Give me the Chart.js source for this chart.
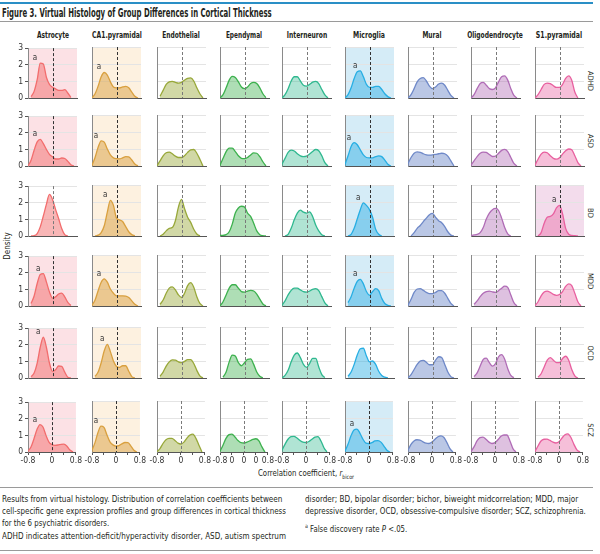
<!DOCTYPE html>
<html>
<head>
<meta charset="utf-8">
<script src="https://cdn.jsdelivr.net/npm/chart.js@4.4.1/dist/chart.umd.min.js"></script>
<style>
  body { margin: 0; background: #fff; }
  #fig {
    position: relative; width: 600px; height: 554px; overflow: hidden;
    font-family: "Liberation Sans Narrow", "DejaVu Sans Condensed", "Liberation Sans", sans-serif;
    color: #231f20;
  }
  .abs { position: absolute; white-space: nowrap; transform-origin: left center; }
  .rule { position: absolute; left: 0; width: 593px; }
  .title { font-size: 11.5px; font-weight: bold; line-height: 12px; }
  .colhead { font-size: 9px; font-weight: bold; line-height: 10px; transform-origin: center center; }
  .rowlab { font-size: 7.5px; line-height: 9px; transform: translate(-50%, -50%) rotate(90deg); transform-origin: center center; }
  .cap { font-size: 8.8px; line-height: 12px; }
  canvas { position: absolute; }
</style>
</head>
<body>
<div id="fig">
  <div class="rule" style="top:2px;height:2px;background:#2a8fc6"></div>
  <div class="abs title fit" data-w="270" style="left:2px;top:7px">Figure 3. Virtual Histology of Group Differences in Cortical Thickness</div>
  <div class="rule" style="top:21px;height:1px;background:#9a9a9a"></div>

  <div class="abs cap" style="left:8px;top:246px;font-size:8px;transform:translate(-50%,-50%) rotate(-90deg);transform-origin:center center">Density</div>
  <div class="abs cap fit" data-w="96" style="left:258px;top:467px">Correlation coefficient, <i>r</i><sub style="font-size:6px">bicor</sub></div>

  <div class="rule" style="top:487px;height:1px;background:#9a9a9a"></div>
  <div class="abs cap fit" data-w="280" style="left:2px;top:493px">Results from virtual histology. Distribution of correlation coefficients between</div>
  <div class="abs cap fit" data-w="284" style="left:2px;top:505px">cell-specific gene expression profiles and group differences in cortical thickness</div>
  <div class="abs cap fit" data-w="107" style="left:2px;top:517px">for the 6 psychiatric disorders.</div>
  <div class="abs cap fit" data-w="284" style="left:2px;top:530px">ADHD indicates attention-deficit/hyperactivity disorder, ASD, autism spectrum</div>
  <div class="abs cap fit" data-w="273" style="left:305px;top:493px">disorder; BD, bipolar disorder; bichor, biweight midcorrelation; MDD, major</div>
  <div class="abs cap fit" data-w="281" style="left:305px;top:505px">depressive disorder, OCD, obsessive-compulsive disorder; SCZ, schizophrenia.</div>
  <div class="abs cap fit" data-w="102" style="left:305px;top:520px"><sup style="font-size:6px">a</sup> False discovery rate <i>P</i> &lt;.05.</div>
  <div class="rule" style="top:550px;height:1px;background:#9a9a9a"></div>
</div>

<script>
/* ---------- Data ---------- */
const cellTypes = ["Astrocyte", "CA1.pyramidal", "Endothelial", "Ependymal", "Interneuron",
  "Microglia", "Mural", "Oligodendrocyte", "S1.pyramidal"];
const disorders = ["ADHD", "ASD", "BD", "MDD", "OCD", "SCZ"];

// correlation coefficient grid, -0.8 .. 0.8
const rValues = [-0.8, -0.7, -0.6, -0.5, -0.4, -0.3, -0.2, -0.1, 0, 0.1, 0.2, 0.3, 0.4, 0.5, 0.6, 0.7, 0.8];
const xTicks = [-0.8, -0.4, 0, 0.4, 0.8];
const xTickLabels = ["-0.8", "", "0", "", "0.8"];
const xTickLabelsEpendymal = ["-0.8", "0", "0", "0", "0.8"];
const yTicks = [0, 1, 2, 3];

// density per disorder (rows ADHD, ASD, BD, MDD, OCD, SCZ)
const densityAstrocyte = [
  [null, 0.08, 0.4, 1.1, 2.1, 2.05, 1.25, 0.82, 0.65, 0.55, 0.46, 0.46, 0.5, 0.3, 0.03, null, null],
  [0, 0.35, 0.95, 1.45, 1.6, 1.35, 1.0, 0.7, 0.55, 0.42, 0.42, 0.48, 0.45, 0.28, 0.08, 0, null],
  [null, 0, 0.02, 0.15, 0.55, 1.2, 1.9, 2.5, 2.2, 1.6, 1.05, 0.45, 0.08, 0, null, null, null],
  [null, 0.15, 0.6, 1.35, 1.9, 1.95, 1.45, 0.85, 0.47, 0.55, 0.72, 0.78, 0.55, 0.22, 0.03, null, null],
  [null, 0.08, 0.3, 0.9, 1.85, 2.45, 1.85, 0.9, 0.4, 0.5, 0.72, 0.7, 0.35, 0.05, 0, null, null],
  [0.05, 0.3, 0.8, 1.35, 1.65, 1.5, 1.0, 0.6, 0.45, 0.4, 0.42, 0.46, 0.47, 0.35, 0.12, 0, null]
];
const densityCA1 = [
  [0, 0.25, 0.7, 1.25, 1.5, 1.35, 0.95, 0.65, 0.6, 0.6, 0.65, 0.68, 0.6, 0.35, 0.1, 0, null],
  [0.05, 0.5, 1.1, 1.48, 1.4, 1.0, 0.65, 0.48, 0.43, 0.42, 0.48, 0.55, 0.53, 0.35, 0.12, 0, null],
  [null, 0, 0.05, 0.2, 0.6, 1.4, 2.1, 1.8, 1.05, 0.95, 0.85, 0.55, 0.25, 0.08, 0.01, null, null],
  [0.05, 0.35, 0.9, 1.4, 1.6, 1.4, 1.0, 0.75, 0.6, 0.6, 0.6, 0.58, 0.5, 0.3, 0.1, 0, null],
  [null, 0.1, 0.35, 0.9, 1.6, 1.98, 1.55, 1.0, 0.68, 0.62, 0.72, 0.72, 0.4, 0.08, 0, null, null],
  [0.1, 0.55, 1.15, 1.52, 1.45, 1.0, 0.6, 0.42, 0.35, 0.38, 0.48, 0.56, 0.55, 0.35, 0.1, 0, null]
];
const densityEndothelial = [
  [null, 0.1, 0.45, 0.8, 0.95, 0.98, 0.92, 0.88, 0.92, 1.05, 1.15, 1.18, 1.0, 0.6, 0.25, 0, null],
  [0.02, 0.3, 0.6, 0.78, 0.82, 0.72, 0.58, 0.5, 0.5, 0.6, 0.8, 0.95, 0.97, 0.75, 0.4, 0, null],
  [null, 0, 0.1, 0.3, 0.45, 0.5, 0.9, 1.7, 2.15, 1.6, 1.1, 0.8, 0.4, 0.12, 0, null, null],
  [null, 0.1, 0.35, 0.75, 1.05, 1.12, 0.95, 0.65, 0.5, 0.75, 1.2, 1.37, 1.1, 0.55, 0.15, 0, null],
  [null, 0.1, 0.35, 0.7, 0.95, 1.07, 1.05, 0.95, 0.9, 0.98, 1.08, 1.08, 0.85, 0.45, 0.12, 0, null],
  [0.02, 0.2, 0.5, 0.72, 0.8, 0.8, 0.68, 0.52, 0.47, 0.58, 0.82, 1.0, 1.05, 0.8, 0.4, 0, null]
];
const densityEpendymal = [
  [0, 0.2, 0.6, 1.05, 1.27, 1.2, 0.95, 0.65, 0.55, 0.65, 0.85, 0.92, 0.85, 0.6, 0.25, 0.02, null],
  [0.05, 0.45, 0.85, 1.05, 1.05, 0.85, 0.6, 0.45, 0.43, 0.5, 0.65, 0.77, 0.75, 0.55, 0.25, 0, null],
  [0.03, 0.04, 0.08, 0.25, 0.7, 1.35, 1.65, 1.75, 1.7, 1.35, 1.15, 0.75, 0.3, 0.08, 0.02, 0, null],
  [0, 0.25, 0.65, 1.05, 1.25, 1.25, 1.05, 0.85, 0.82, 0.88, 0.92, 0.88, 0.7, 0.4, 0.12, 0, null],
  [null, 0.05, 0.35, 0.95, 1.35, 1.3, 0.9, 0.72, 0.9, 1.1, 1.12, 0.8, 0.35, 0.1, 0.02, null, null],
  [0.05, 0.4, 0.8, 1.02, 1.05, 0.88, 0.68, 0.55, 0.53, 0.58, 0.66, 0.74, 0.78, 0.65, 0.3, 0, null]
];
const densityInterneuron = [
  [0, 0.2, 0.55, 1.0, 1.25, 1.25, 1.0, 0.75, 0.7, 0.8, 0.93, 0.98, 0.85, 0.5, 0.18, 0, null],
  [0.1, 0.45, 0.8, 0.93, 0.88, 0.72, 0.6, 0.55, 0.58, 0.7, 0.85, 0.97, 0.9, 0.6, 0.2, 0, null],
  [null, 0, 0.1, 0.45, 0.95, 1.35, 1.52, 1.4, 1.35, 1.42, 1.15, 0.65, 0.3, 0.08, 0, null, null],
  [0.05, 0.3, 0.65, 0.92, 1.05, 1.05, 0.95, 0.85, 0.82, 0.88, 0.98, 1.02, 0.9, 0.55, 0.18, 0, null],
  [0, 0.15, 0.45, 0.95, 1.35, 1.47, 1.2, 0.8, 0.62, 0.85, 1.15, 1.15, 0.65, 0.2, 0.03, null, null],
  [0.1, 0.45, 0.75, 0.9, 0.92, 0.82, 0.68, 0.58, 0.56, 0.62, 0.75, 0.88, 0.9, 0.65, 0.25, 0, null]
];
const densityMicroglia = [
  [0, 0.2, 0.6, 1.15, 1.55, 1.6, 1.25, 0.8, 0.62, 0.62, 0.68, 0.68, 0.5, 0.25, 0.08, 0, null],
  [0.1, 0.6, 1.15, 1.37, 1.25, 0.95, 0.65, 0.5, 0.48, 0.48, 0.55, 0.59, 0.55, 0.35, 0.1, 0, null],
  [null, 0, 0.1, 0.45, 1.0, 1.55, 1.95, 1.8, 1.55, 1.1, 0.4, 0.1, 0, null, null, null, null],
  [null, 0.2, 0.55, 1.05, 1.45, 1.57, 1.3, 0.85, 0.63, 0.85, 1.02, 0.9, 0.45, 0.15, 0.04, 0, null],
  [null, 0.1, 0.35, 0.8, 1.35, 1.72, 1.75, 1.3, 0.95, 1.0, 0.8, 0.4, 0.15, 0.05, 0.01, null, null],
  [0.05, 0.45, 0.95, 1.3, 1.35, 1.1, 0.75, 0.52, 0.5, 0.55, 0.65, 0.67, 0.58, 0.35, 0.1, 0, null]
];
const densityMural = [
  [0, 0.2, 0.55, 0.95, 1.15, 1.2, 1.0, 0.7, 0.55, 0.65, 0.82, 0.88, 0.75, 0.45, 0.15, 0, null],
  [0.15, 0.5, 0.75, 0.83, 0.8, 0.72, 0.66, 0.64, 0.65, 0.68, 0.72, 0.75, 0.72, 0.58, 0.3, 0, null],
  [null, 0, 0.2, 0.45, 0.62, 0.85, 1.05, 1.25, 1.33, 1.1, 0.9, 0.78, 0.55, 0.25, 0.05, 0, null],
  [0.05, 0.4, 0.8, 1.0, 1.02, 0.92, 0.8, 0.73, 0.73, 0.8, 0.9, 0.9, 0.75, 0.45, 0.15, 0, null],
  [0.02, 0.2, 0.5, 0.8, 1.0, 1.04, 0.92, 0.78, 0.78, 1.05, 1.25, 1.2, 0.8, 0.35, 0.08, 0, null],
  [0.1, 0.45, 0.65, 0.72, 0.7, 0.6, 0.52, 0.5, 0.58, 0.75, 0.9, 0.95, 0.85, 0.55, 0.2, 0, null]
];
const densityOligodendrocyte = [
  [0, 0.2, 0.55, 0.85, 0.92, 0.75, 0.55, 0.5, 0.6, 0.95, 1.25, 1.3, 1.05, 0.55, 0.15, 0, null],
  [0.05, 0.3, 0.55, 0.75, 0.82, 0.8, 0.68, 0.56, 0.58, 0.75, 0.92, 0.98, 0.85, 0.5, 0.15, 0, null],
  [0.03, 0.06, 0.1, 0.2, 0.5, 1.0, 1.35, 1.55, 1.62, 1.5, 1.05, 0.5, 0.12, 0, null, null, null],
  [null, 0.1, 0.3, 0.55, 0.75, 0.85, 0.88, 0.83, 0.8, 0.9, 1.05, 1.17, 1.1, 0.65, 0.2, 0, null],
  [null, 0.08, 0.3, 0.7, 1.1, 1.17, 0.9, 0.7, 0.85, 1.25, 1.37, 1.1, 0.55, 0.15, 0.02, null, null],
  [0.03, 0.3, 0.65, 0.85, 0.88, 0.75, 0.58, 0.5, 0.55, 0.72, 0.92, 1.0, 1.0, 0.65, 0.2, 0, null]
];
const densityS1 = [
  [0, 0.2, 0.5, 0.8, 0.88, 0.85, 0.72, 0.62, 0.62, 0.8, 1.15, 1.3, 1.05, 0.35, 0, null, null],
  [0.05, 0.4, 0.7, 0.82, 0.78, 0.6, 0.45, 0.4, 0.48, 0.7, 0.9, 1.0, 0.95, 0.6, 0.2, 0, null],
  [null, 0, 0.2, 0.75, 1.1, 1.15, 1.3, 1.65, 1.8, 1.3, 0.45, 0.1, 0.03, 0.02, 0, null, null],
  [0.02, 0.25, 0.6, 0.82, 0.88, 0.8, 0.68, 0.63, 0.68, 0.85, 1.15, 1.3, 1.2, 0.75, 0.25, 0, null],
  [null, 0.05, 0.25, 0.65, 1.05, 1.2, 1.05, 0.9, 0.9, 1.15, 1.28, 1.05, 0.5, 0.12, 0, null, null],
  [0.03, 0.35, 0.65, 0.75, 0.76, 0.68, 0.58, 0.53, 0.6, 0.82, 1.02, 1.07, 0.85, 0.45, 0.12, 0, null]
];
const densities = [densityAstrocyte, densityCA1, densityEndothelial, densityEpendymal,
  densityInterneuron, densityMicroglia, densityMural, densityOligodendrocyte, densityS1];

// false discovery rate P < .05, per cell type (rows ADHD..SCZ)
const fdrSignificant = [
  [1, 1, 0, 1, 1, 1],
  [1, 1, 1, 1, 1, 1],
  [0, 0, 0, 0, 0, 0],
  [0, 0, 0, 0, 0, 0],
  [0, 0, 0, 0, 0, 0],
  [1, 1, 1, 1, 0, 1],
  [0, 0, 0, 0, 0, 0],
  [0, 0, 0, 0, 0, 0],
  [0, 0, 1, 0, 0, 0]
];

/* ---------- Styles ---------- */
const lineColors = ["#f26d6d", "#d9a03f", "#98a83a", "#3db14e", "#2fb88f", "#27aee3", "#6f89c8", "#b06cb6", "#e8609f"];
const fillColors = ["rgba(242,110,110,0.5)", "rgba(217,160,63,0.5)", "rgba(152,168,58,0.45)",
  "rgba(61,177,78,0.42)", "rgba(47,184,143,0.38)", "rgba(39,174,227,0.45)",
  "rgba(111,137,200,0.48)", "rgba(176,108,182,0.42)", "rgba(232,96,159,0.4)"];
const shadeColors = ["#fce1e5", "#fdf1e0", null, null, null, "#d5ecf7", null, null, "#f3dcec"];

const FONT = '"Liberation Sans Narrow", "DejaVu Sans Condensed", "Liberation Sans", sans-serif';
const panelCenters = [52.7, 116.7, 181, 244, 306.7, 369.3, 432.3, 495.3, 559.3];
const headerWidths = [32, 50, 38, 36, 40, 32, 19, 56, 46];
const panelTops = [47, 115, 185, 255, 327, 401];
const rowLabelY = [81, 141, 213, 281, 353, 430];
const PANEL_W = 49, PANEL_H = 51;
const PAD_L = 20, PAD_T = 6, PAD_R = 6, PAD_B = 18;

/* ---------- Panel decoration ---------- */
const panelDecor = {
  id: "panelDecor",
  beforeDraw(chart, args, opts) {
    if (!opts.shade) return;
    const { ctx, chartArea: a } = chart;
    ctx.save();
    ctx.fillStyle = opts.shade;
    ctx.fillRect(a.left, a.top, a.right - a.left, a.bottom - a.top);
    ctx.restore();
  },
  afterDatasetsDraw(chart, args, opts) {
    const { ctx, chartArea: a, scales } = chart;
    const x0 = Math.round(scales.x.getPixelForValue(0)) + 0.5;
    ctx.save();
    ctx.strokeStyle = opts.shade ? "#333" : "#7a7a7a";
    ctx.lineWidth = 1;
    ctx.setLineDash([3, 2]);
    ctx.beginPath();
    ctx.moveTo(x0, a.top);
    ctx.lineTo(x0, a.bottom);
    ctx.stroke();
    ctx.restore();

    if (!opts.significant) return;
    const values = chart.data.datasets[0].data.map((p) => (p.y == null ? -1 : p.y));
    const peak = Math.max(...values);
    const idx = values.indexOf(peak);
    ctx.save();
    ctx.fillStyle = "#333";
    ctx.font = "8px " + FONT;
    ctx.textAlign = "center";
    ctx.textBaseline = "middle";
    ctx.fillText("a", scales.x.getPixelForValue(rValues[idx] - 0.17), scales.y.getPixelForValue(peak + 0.3));
    ctx.restore();
  }
};

/* ---------- Build grid ---------- */
const fig = document.getElementById("fig");

cellTypes.forEach((name, col) => {
  const head = document.createElement("div");
  head.className = "abs colhead";
  head.style.left = panelCenters[col] + "px";
  head.style.top = "30px";
  head.textContent = name;
  fig.appendChild(head);
  const s = headerWidths[col] / head.offsetWidth;
  head.style.transform = "translateX(-50%) scaleX(" + s + ")";
});

disorders.forEach((name, row) => {
  const lab = document.createElement("div");
  lab.className = "abs rowlab";
  lab.style.left = "590px";
  lab.style.top = rowLabelY[row] + "px";
  lab.textContent = name;
  fig.appendChild(lab);
});

// squeeze long text lines to the widths they take in the figure
document.querySelectorAll(".fit").forEach((el) => {
  const s = Number(el.dataset.w) / el.offsetWidth;
  el.style.transform = "scaleX(" + s + ")";
});

densities.forEach((rows, col) => {
  rows.forEach((values, row) => {
    const isBottom = row === disorders.length - 1;
    const isFirst = col === 0;
    const canvas = document.createElement("canvas");
    canvas.width = PAD_L + PANEL_W + PAD_R;
    canvas.height = PAD_T + PANEL_H + PAD_B;
    canvas.style.left = (panelCenters[col] - PANEL_W / 2 - PAD_L) + "px";
    canvas.style.top = (panelTops[row] - PAD_T) + "px";
    fig.appendChild(canvas);

    const labels = col === 3 ? xTickLabelsEpendymal : xTickLabels;

    new Chart(canvas, {
      type: "line",
      data: {
        datasets: [{
          data: rValues.map((r, i) => ({ x: r, y: values[i] })),
          borderColor: lineColors[col],
          backgroundColor: fillColors[col],
          borderWidth: 1.3,
          fill: "origin",
          pointRadius: 0,
          cubicInterpolationMode: "monotone"
        }]
      },
      plugins: [panelDecor],
      options: {
        responsive: false,
        animation: false,
        events: [],
        layout: { padding: { top: PAD_T, right: PAD_R, left: 0, bottom: 0 } },
        plugins: {
          legend: { display: false },
          tooltip: { enabled: false },
          panelDecor: { shade: fdrSignificant[col][row] ? shadeColors[col] : null, significant: !!fdrSignificant[col][row] }
        },
        scales: {
          x: {
            type: "linear",
            min: -0.8,
            max: 0.8,
            afterBuildTicks: (s) => { s.ticks = xTicks.map((v) => ({ value: v })); },
            afterFit: (s) => { s.height = PAD_B; },
            grid: { drawOnChartArea: false, drawTicks: isBottom, tickLength: 3, tickColor: "#555" },
            border: { color: "#555", width: 1 },
            ticks: {
              display: isBottom,
              autoSkip: false,
              maxRotation: 0,
              padding: 1,
              color: "#333",
              font: { family: FONT, size: 8.5 },
              callback: (v, i) => labels[i]
            }
          },
          y: {
            min: 0,
            max: 3,
            afterBuildTicks: (s) => { s.ticks = yTicks.map((v) => ({ value: v })); },
            afterFit: (s) => { s.width = PAD_L; },
            grid: { color: "#e4e4e4", drawTicks: isFirst, tickLength: 3, tickColor: "#555" },
            border: { color: "#8a8a8a", width: 1 },
            ticks: {
              display: isFirst,
              padding: 2,
              color: "#333",
              font: { family: FONT, size: 8.5 },
              callback: (v) => String(v)
            }
          }
        }
      }
    });
  });
});
</script>
</body>
</html>
